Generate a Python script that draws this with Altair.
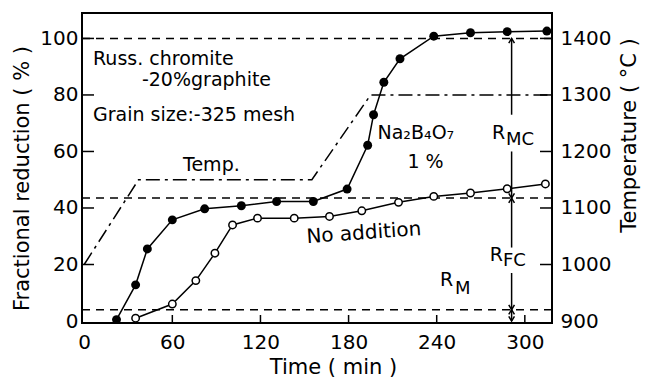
import altair as alt
import pandas as pd

# ---- data ----
# Na2B4O7 1 % (filled circles)
t_borax = [22, 35, 43, 60, 82, 107, 131, 156, 179, 193, 197, 204, 215, 238, 263, 288, 315]
r_borax = [0.5, 12.8, 25.5, 35.8, 39.7, 40.8, 42.3, 42.3, 46.7, 62.2, 73.0, 84.5, 92.8, 100.8, 102.0, 102.4, 102.6]
# No addition (open circles)
t_none = [35, 60, 76, 89, 101, 118, 143, 167, 189, 214, 238, 263, 288, 314]
r_none = [1.0, 6.0, 14.3, 24.0, 34.0, 36.4, 36.4, 37.0, 39.0, 42.0, 44.1, 45.3, 46.8, 48.5]
# temperature programme
t_temp = [0, 37, 155, 195, 318.5]
temp_c = [1000, 1150, 1150, 1300, 1300]
# reference levels (dashed)
ref_levels = [100, 43.5, 4]
# R_MC / R_FC / R_M arrows
t_arrow = 291
seg_from = [100, 60, 43.5, 17, 4]
seg_to = [73, 43.5, 26, 4, 0]
head_up = [100, 43.5, 4]
head_down = [43.5, 4, 0]
# ticks
x_ticks = [0, 60, 120, 180, 240, 300]
y_ticks = [0, 20, 40, 60, 80, 100]
temp_ticks = [900, 1000, 1100, 1200, 1300, 1400]
# annotations (time, reduction, text)
notes_t = [6, 39.3, 6, 67.3, 199.7, 220.1, 277.6, 276.2, 242.2]
notes_r = [92.6, 85.2, 72.9, 55.2, 66.5, 56.3, 66.5, 23.4, 14.5]
notes_txt = ["Russ. chromite", "-20%graphite", "Grain size:-325 mesh", "Temp.",
             "Na\u2082B\u2084O\u2087", "1 %", "R", "R", "R"]
subs_t = [287.1, 285.1, 252.4]
subs_r = [64.0, 21.2, 11.3]
subs_txt = ["MC", "FC", "M"]

FONT = "DejaVu Sans"

x_scale = alt.Scale(domain=[-1.5, 318.5], nice=False, zero=False)
y_scale = alt.Scale(domain=[-0.7, 109], nice=False, zero=False)
yt_scale = alt.Scale(domain=[896.5, 1445], nice=False, zero=False)

x_axis = alt.Axis(values=x_ticks, title="Time   ( min )", ticks=False, domain=False,
                  grid=False, labelPadding=9, labelFlush=False, format="d",
                  titleFontWeight="normal",
                  titleX=251, titleY=44, titleAlign="center", titleBaseline="middle")
y_axis = alt.Axis(values=y_ticks, title="Fractional  reduction ( % )", ticks=False,
                  domain=False, grid=False, labelPadding=4, labelFlush=False, format="d",
                  titleFontWeight="normal",
                  titleX=-60, titleY=165, titleAngle=270, titleAlign="center", titleBaseline="middle")
yt_axis = alt.Axis(orient="right", values=temp_ticks, title="Temperature ( \u00b0C )",
                   ticks=False, domain=False, grid=False, labelPadding=8, labelFlush=False,
                   format="d", titleFontWeight="normal",
                   titleX=77, titleY=122, titleAngle=270, titleAlign="center",
                   titleBaseline="middle")

# every layer shares the same axis definition so that the merged axis is kept
X = lambda f: alt.X(f, type="quantitative", scale=x_scale, axis=x_axis)
Y = lambda f: alt.Y(f, type="quantitative", scale=y_scale, axis=y_axis)
YT = lambda f: alt.Y(f, type="quantitative", scale=yt_scale, axis=yt_axis)

df_b = pd.DataFrame({"t": t_borax, "r": r_borax})
df_n = pd.DataFrame({"t": t_none, "r": r_none})
df_temp = pd.DataFrame({"t": t_temp, "temp": temp_c})
df_ref = pd.DataFrame({"r": ref_levels})
df_seg = pd.DataFrame({"t": [t_arrow] * len(seg_from), "r": seg_from, "r2": seg_to})
df_up = pd.DataFrame({"t": [t_arrow] * len(head_up), "r": head_up})
df_dn = pd.DataFrame({"t": [t_arrow] * len(head_down), "r": head_down})
df_notes = pd.DataFrame({"t": notes_t, "r": notes_r, "txt": notes_txt})
df_subs = pd.DataFrame({"t": subs_t, "r": subs_r, "txt": subs_txt})
df_noadd = pd.DataFrame({"t": [190.4], "r": [31.1], "txt": ["No addition"]})
df_xt = pd.DataFrame({"t": x_ticks[1:]})
df_yt = pd.DataFrame({"r": y_ticks[1:]})
df_tt = pd.DataFrame({"temp": temp_ticks[1:]})

ref_lines = alt.Chart(df_ref).mark_rule(color="black", strokeWidth=1.5, strokeDash=[8, 6]).encode(
    y=Y("r"))
line_b = alt.Chart(df_b).mark_line(color="black", strokeWidth=1.5).encode(x=X("t"), y=Y("r"))
pts_b = alt.Chart(df_b).mark_point(shape="circle", filled=True, color="black", size=80, opacity=1).encode(
    x=X("t"), y=Y("r"))
line_n = alt.Chart(df_n).mark_line(color="black", strokeWidth=1.5).encode(x=X("t"), y=Y("r"))
pts_n = alt.Chart(df_n).mark_point(shape="circle", filled=True, fill="white", stroke="black",
                                   strokeWidth=1.5, size=55, opacity=1).encode(x=X("t"), y=Y("r"))

segs = alt.Chart(df_seg).mark_rule(color="black", strokeWidth=1.5).encode(
    x=X("t"), y=Y("r"), y2="r2")
up = alt.Chart(df_up).mark_point(shape="M -0.6 1 L 0 0 L 0.6 1", filled=False, color="black",
                                 strokeWidth=1.5, size=90, opacity=1).encode(x=X("t"), y=Y("r"))
dn = alt.Chart(df_dn).mark_point(shape="M -0.6 -1 L 0 0 L 0.6 -1", filled=False, color="black",
                                 strokeWidth=1.5, size=90, opacity=1).encode(x=X("t"), y=Y("r"))

notes = alt.Chart(df_notes).mark_text(align="left", baseline="middle", font=FONT, fontSize=19,
                                      color="black").encode(x=X("t"), y=Y("r"), text="txt")
subs = alt.Chart(df_subs).mark_text(align="left", baseline="middle", font=FONT, fontSize=18,
                                    color="black").encode(x=X("t"), y=Y("r"), text="txt")
noadd = alt.Chart(df_noadd).mark_text(align="center", baseline="middle", font=FONT, fontSize=20,
                                      angle=356, color="black").encode(x=X("t"), y=Y("r"), text="txt")

xt = alt.Chart(df_xt).mark_rule(color="black", strokeWidth=1.5).encode(
    x=X("t"), y=alt.value(310), y2=alt.value(302))
yt = alt.Chart(df_yt).mark_rule(color="black", strokeWidth=1.5).encode(
    y=Y("r"), x=alt.value(0), x2=alt.value(12))

left = alt.layer(line_b, ref_lines, line_n, pts_b, pts_n, segs, up, dn, notes, subs, noadd, xt, yt)

temp_line = alt.Chart(df_temp).mark_line(color="black", strokeWidth=1.5, strokeDash=[14, 5, 3, 5]).encode(
    x=X("t"), y=YT("temp"))
tt = alt.Chart(df_tt).mark_rule(color="black", strokeWidth=1.5).encode(
    y=YT("temp"), x=alt.value(470), x2=alt.value(458))
right = alt.layer(temp_line, tt)

chart = alt.layer(left, right).resolve_scale(y="independent").properties(
    width=470, height=310,
    padding={"left": 74, "top": 5, "right": 89, "bottom": 54},
    autosize=alt.AutoSizeParams(type="none"),
).configure_view(stroke="black", strokeWidth=2).configure_axis(
    labelFont=FONT, labelFontSize=20, labelColor="black",
    titleFont=FONT, titleFontSize=21, titleFontWeight="normal", titleColor="black")

chart.save("out.html", embed_options={"renderer": "svg", "actions": False})
